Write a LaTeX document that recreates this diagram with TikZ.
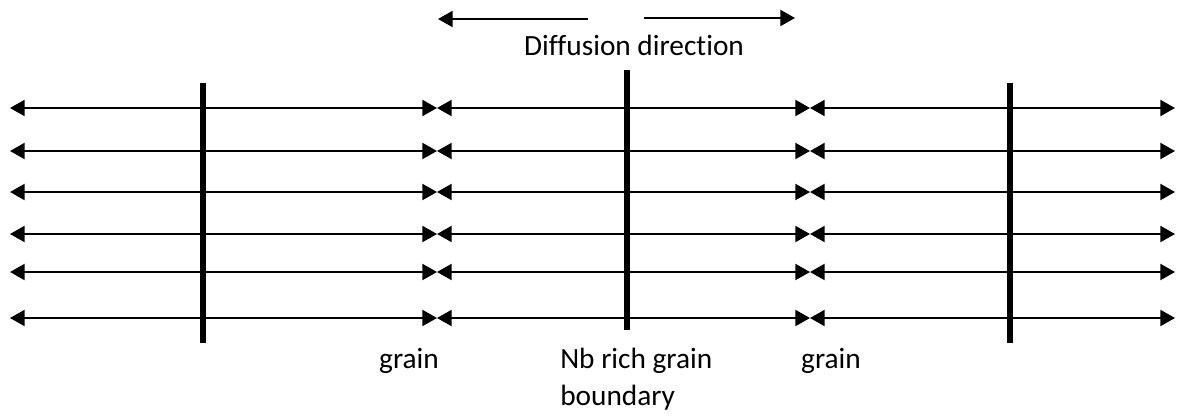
\documentclass[tikz,border=0pt]{standalone}
\usepackage{fontspec}
\setmainfont{Carlito}[Ligatures=NoCommon]
\usetikzlibrary{arrows.meta}
\begin{document}
\begin{tikzpicture}[x=0.75pt,y=-0.75pt,
  flux/.style={line width=1.6pt,{Triangle[length=11pt,width=12pt]}-{Triangle[length=11pt,width=12pt]}},
  arr/.style={line width=1.6pt,-{Triangle[length=11pt,width=12pt]}},
  gb/.style={line width=5pt},
  lbl/.style={font=\fontsize{22}{27.5}\selectfont,inner sep=0pt}]
\useasboundingbox (0,0) rectangle (1177,418);
% grain boundaries
\coordinate (g1t) at (203,83); \coordinate (g1b) at (203,343);
\coordinate (g2t) at (627,70); \coordinate (g2b) at (627,330);
\coordinate (g3t) at (1010,83); \coordinate (g3b) at (1010,343);
\draw[gb] (g1t) -- (g1b);
\draw[gb] (g2t) -- (g2b);
\draw[gb] (g3t) -- (g3b);
% flux rows
\foreach \i/\y in {1/108,2/151,3/192,4/234,5/272,6/318}{
  \coordinate (a\i) at (10,\y);
  \coordinate (b\i) at (437,\y);
  \coordinate (c\i) at (810,\y);
  \coordinate (d\i) at (1175,\y);
  \draw[flux] (a\i) -- (b\i);
  \draw[flux] (b\i) -- (c\i);
  \draw[flux] (c\i) -- (d\i);
}
% diffusion direction
\coordinate (l0) at (588,19); \coordinate (l1) at (438,19);
\coordinate (r0) at (644,18); \coordinate (r1) at (795,18);
\draw[arr] (l0) -- (l1);
\draw[arr] (r0) -- (r1);
\node[lbl,anchor=base] (dd) at (634,55) {Diffusion direction};
\node[lbl,anchor=base] (gl) at (409,368) {grain};
\node[lbl,align=left,anchor=base west] (nb) at (560,405) {Nb rich grain\\boundary};
\node[lbl,anchor=base] (gr) at (831,368) {grain};
\end{tikzpicture}
\end{document}
